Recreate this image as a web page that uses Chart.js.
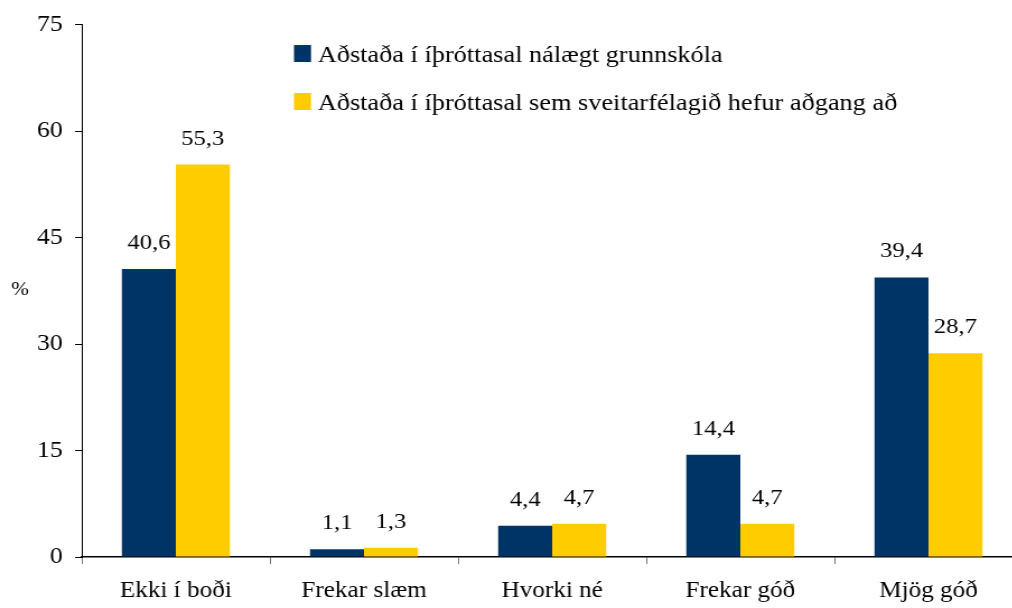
<!DOCTYPE html>
<html>
<head>
<meta charset="utf-8">
<script src="https://cdn.jsdelivr.net/npm/chart.js@4/dist/chart.umd.min.js"></script>
<style>
  body { margin: 0; overflow: hidden; background: #fff; font-family: "Liberation Serif", serif; }
  /* the reference lettering is a bit wide, so stretch horizontally */
  #wrap { width: 930px; height: 608px; position: relative; transform: scaleX(1.12); transform-origin: 0 0; }
</style>
</head>
<body>
<div id="wrap"><canvas id="chart"></canvas></div>
<script>
const categories = ['Ekki í boði', 'Frekar slæm', 'Hvorki né', 'Frekar góð', 'Mjög góð'];
const nearSchool = [40.6, 1.1, 4.4, 14.4, 39.4];
const municipal = [55.3, 1.3, 4.7, 4.7, 28.7];
const seriesNames = ['Aðstaða í íþróttasal nálægt grunnskóla', 'Aðstaða í íþróttasal sem sveitarfélagið hefur aðgang að'];
const yTicks = [0, 15, 30, 45, 60, 75];

const FONT = '"Liberation Serif"';

// value labels above the bars, comma decimals
const valueLabels = {
  id: 'valueLabels',
  afterDatasetsDraw(chart) {
    const ctx = chart.ctx;
    ctx.save();
    ctx.font = '22px ' + FONT;
    ctx.fillStyle = '#000';
    ctx.textAlign = 'center';
    ctx.textBaseline = 'alphabetic';
    chart.data.datasets.forEach((ds, i) => {
      chart.getDatasetMeta(i).data.forEach((bar, j) => {
        ctx.fillText(ds.data[j].toFixed(1).replace('.', ','), bar.x, bar.y - 20);
      });
    });
    ctx.restore();
  }
};

// legend drawn inside the plot, stacked
const innerLegend = {
  id: 'innerLegend',
  afterDraw(chart) {
    const ctx = chart.ctx;
    ctx.save();
    ctx.font = '23.5px ' + FONT;
    ctx.textBaseline = 'alphabetic';
    chart.data.datasets.forEach((ds, i) => {
      const base = 62 + i * 48;
      ctx.fillStyle = ds.backgroundColor;
      ctx.fillRect(262.5, base - 17, 15.2, 17);
      ctx.fillStyle = '#000';
      ctx.fillText(ds.label, 283.7, base);
    });
    ctx.restore();
  }
};

// "%" axis title
const yTitle = {
  id: 'yTitle',
  afterDraw(chart) {
    const ctx = chart.ctx;
    ctx.save();
    ctx.font = '19px ' + FONT;
    ctx.fillStyle = '#000';
    ctx.textAlign = 'center';
    ctx.textBaseline = 'middle';
    ctx.fillText('%', 18, 290);
    ctx.restore();
  }
};

function draw() {
  new Chart(document.getElementById('chart'), {
    type: 'bar',
    data: {
      labels: categories,
      datasets: [
        { label: seriesNames[0], data: nearSchool, backgroundColor: '#003366' },
        { label: seriesNames[1], data: municipal, backgroundColor: '#ffcc00' }
      ]
    },
    options: {
      responsive: true,
      maintainAspectRatio: false,
      animation: false,
      layout: { padding: { top: 21, right: 17, left: 0, bottom: 0 } },
      plugins: { legend: { display: false }, tooltip: { enabled: false } },
      datasets: { bar: { categoryPercentage: 0.574, barPercentage: 1 } },
      scales: {
        x: {
          grid: { drawOnChartArea: false, offset: true, tickLength: 7, color: '#777' },
          border: { color: '#000', width: 1.5 },
          ticks: { color: '#000', font: { family: FONT, size: 22.5 }, padding: 14 },
          afterFit: axis => { axis.height = 51; }
        },
        y: {
          min: 0, max: 75,
          afterBuildTicks: axis => { axis.ticks = yTicks.map(v => ({ value: v })); },
          grid: { drawOnChartArea: false, tickLength: 6, color: '#000' },
          border: { color: '#000', width: 1 },
          ticks: { color: '#000', font: { family: FONT, size: 23 }, padding: 11 },
          afterFit: axis => { axis.width = 73; }
        }
      }
    },
    plugins: [valueLabels, innerLegend, yTitle]
  });
}

document.fonts.load('23px "Liberation Serif"').then(draw, draw);
</script>
</body>
</html>
